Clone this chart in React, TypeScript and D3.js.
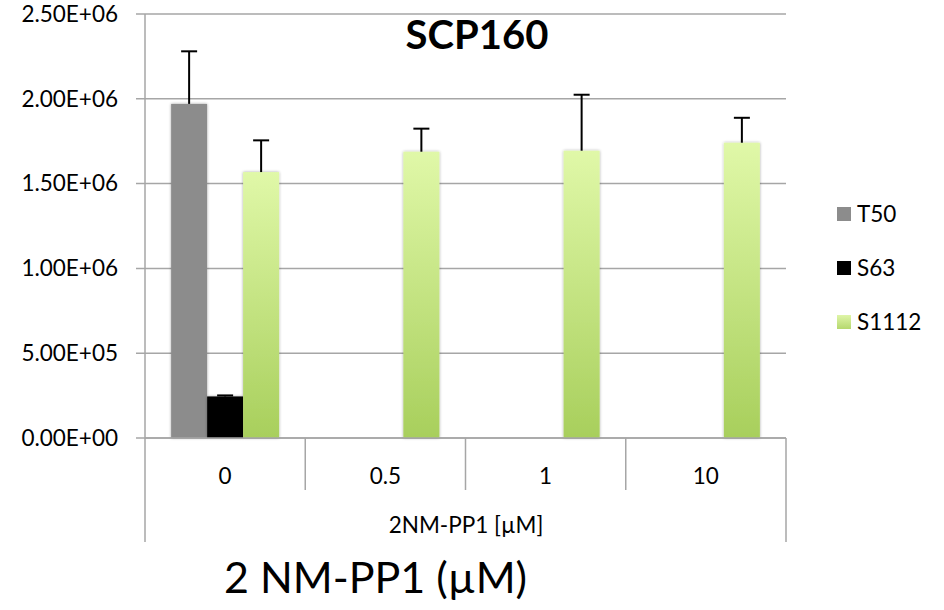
import React from "react";
import * as d3 from "d3";

const categories = ["0", "0.5", "1", "10"];
const seriesNames = ["T50", "S63", "S1112"];
const t50Values = [1.97e6, null, null, null];
const t50Errors = [0.31e6, null, null, null];
const s63Values = [0.245e6, null, null, null];
const s63Errors = [0.006e6, null, null, null];
const s1112Values = [1.568e6, 1.688e6, 1.694e6, 1.741e6];
const s1112Errors = [0.187e6, 0.136e6, 0.33e6, 0.147e6];
const yTicks = [0, 5e5, 1e6, 1.5e6, 2e6, 2.5e6];

const W = 944, H = 610;
const left = 145, right = 786, top = 14, bottom = 438;
const FONT = "Lato, 'Open Sans', sans-serif";

function fmt(v: number) {
  const s = v.toExponential(2).toUpperCase();
  const m = s.match(/^([\d.]+)E([+-])(\d+)$/);
  if (!m) return s;
  return `${m[1]}E${m[2]}${m[3].padStart(2, "0")}`;
}

export default function App() {
  const y = d3.scaleLinear().domain([0, 2.5e6]).range([bottom, top]);
  const x0 = d3.scaleBand<string>().domain(categories).range([left, right]).paddingInner(0).paddingOuter(0);
  const bw = 36;
  const series = [
    { name: seriesNames[0], values: t50Values, errors: t50Errors, fill: "#8c8c8c" },
    { name: seriesNames[1], values: s63Values, errors: s63Errors, fill: "#000000" },
    { name: seriesNames[2], values: s1112Values, errors: s1112Errors, fill: "url(#greenGrad)" },
  ];
  const x1 = d3.scaleBand<number>().domain([0, 1, 2]).range([0, bw * 3]);
  const bandW = x0.bandwidth();

  return (
    <svg width={W} height={H} style={{ position: "absolute", left: 0, top: 0, background: "#fff" }}>
      <defs>
        <linearGradient id="greenGrad" x1="0" y1="0" x2="0" y2="1">
          <stop offset="0" stopColor="#e0f8a8" />
          <stop offset="1" stopColor="#a8cf5c" />
        </linearGradient>
        <linearGradient id="greenGradLeg" x1="0" y1="0" x2="0" y2="1">
          <stop offset="0" stopColor="#dff5a8" />
          <stop offset="1" stopColor="#b5d86e" />
        </linearGradient>
        <filter id="shadow" x="-30%" y="-10%" width="160%" height="120%">
          <feGaussianBlur in="SourceAlpha" stdDeviation="1.5" />
          <feOffset dx="0" dy="0" result="b" />
          <feComponentTransfer><feFuncA type="linear" slope="0.35" /></feComponentTransfer>
          <feMerge><feMergeNode /><feMergeNode in="SourceGraphic" /></feMerge>
        </filter>
      </defs>

      {/* gridlines */}
      {yTicks.map((t) => (
        <g key={t}>
          <line x1={136} x2={right} y1={y(t)} y2={y(t)} stroke="#a6a6a6" strokeWidth={1.5} />
          <text x={118} y={y(t)} dy="0.35em" textAnchor="end" fontFamily={FONT} fontSize={22.5} fill="#000">
            {fmt(t)}
          </text>
        </g>
      ))}
      {/* y axis line */}
      <line x1={left} x2={left} y1={top} y2={bottom} stroke="#a6a6a6" strokeWidth={1.5} />

      {/* bars */}
      {series.map((s, si) =>
        categories.map((c, ci) => {
          const v = s.values[ci];
          if (v == null) return null;
          const bx = (x0(c) as number) + bandW / 2 - (bw * 3) / 2 + (x1(si) as number);
          return (
            <rect key={`${si}-${ci}`} x={bx} y={y(v)} width={bw} height={bottom - y(v)} fill={s.fill} filter="url(#shadow)" />
          );
        })
      )}
      {/* error bars */}
      {series.map((s, si) =>
        categories.map((c, ci) => {
          const v = s.values[ci];
          const e = s.errors[ci];
          if (v == null || e == null) return null;
          const cx = (x0(c) as number) + bandW / 2 - (bw * 3) / 2 + (x1(si) as number) + bw / 2;
          return (
            <g key={`e${si}-${ci}`} stroke="#000" strokeWidth={2}>
              <line x1={cx} x2={cx} y1={y(v)} y2={y(v + e)} />
              <line x1={cx - 8} x2={cx + 8} y1={y(v + e)} y2={y(v + e)} />
            </g>
          );
        })
      )}

      {/* x axis */}
      <line x1={left} x2={right} y1={bottom} y2={bottom} stroke="#a6a6a6" strokeWidth={1.5} />
      {categories.map((c, i) => (
        <g key={c}>
          {i > 0 && <line x1={x0(c)} x2={x0(c)} y1={bottom} y2={490} stroke="#a6a6a6" strokeWidth={1.5} />}
          <text x={(x0(c) as number) + bandW / 2} y={476} dy="0.35em" textAnchor="middle" fontFamily={FONT} fontSize={22.5}>
            {c}
          </text>
        </g>
      ))}
      <line x1={left} x2={left} y1={bottom} y2={542} stroke="#a6a6a6" strokeWidth={1.5} />
      <line x1={right} x2={right} y1={bottom} y2={542} stroke="#a6a6a6" strokeWidth={1.5} />
      <text x={(left + right) / 2 + 0.5} y={525} dy="0.35em" textAnchor="middle" fontFamily={FONT} fontSize={22.5}>
        2NM-PP1 [µM]
      </text>

      {/* title */}
      <text x={477} y={35} dy="0.35em" textAnchor="middle" fontFamily={FONT} fontWeight="bold" fontSize={40}>
        SCP160
      </text>

      {/* legend */}
      {series.map((s, i) => (
        <g key={s.name} transform={`translate(837, ${207 + i * 54})`}>
          <rect x={0} y={0} width={14} height={14} fill={i === 2 ? "url(#greenGradLeg)" : s.fill} />
          <text x={20} y={7} dy="0.35em" fontFamily={FONT} fontSize={22.5}>{s.name}</text>
        </g>
      ))}

      {/* big axis label */}
      <text x={224} y={578} dy="0.35em" fontFamily={FONT} fontSize={43}>
        2 NM-PP1 (µM)
      </text>
    </svg>
  );
}
